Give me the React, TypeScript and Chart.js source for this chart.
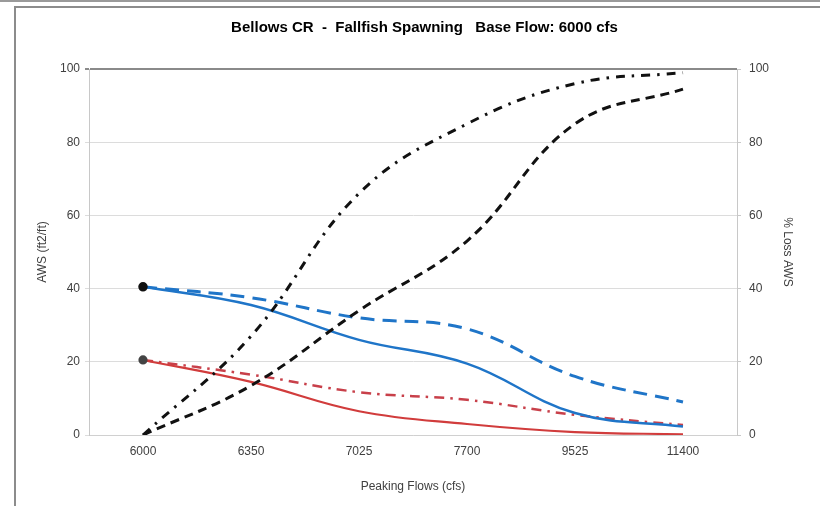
import React, { useEffect, useRef } from "react";
import { Chart, registerables } from "chart.js";

Chart.register(...registerables);

const categories = ["6000", "6350", "7025", "7700", "9525", "11400"];
const awsTicks = [0, 20, 40, 60, 80, 100];

const blueSolid = [40.5, 35.5, 26, 19.5, 6, 2.3];
const blueDashed = [40.5, 37.5, 32, 29, 16, 9];
const redSolid = [20.5, 14.5, 6.5, 3, 0.8, 0.2];
const redDashDot = [20.5, 16.5, 11.7, 9.6, 5.5, 2.7];
const blackDashDot = [0, 27, 66, 85, 96, 99];
const blackDashed = [0, 13.5, 34, 53, 85, 94.5];

const titleText = "Bellows CR  -  Fallfish Spawning   Base Flow: 6000 cfs";
const xTitle = "Peaking Flows (cfs)";
const yTitle = "AWS (ft2/ft)";
const y1Title = "% Loss AWS";

const FONT = "'Liberation Sans', Arial, sans-serif";
const BLUE = "#1f75c8";
const RED = "#d13c3c";

export default function App() {
  const ref = useRef<HTMLCanvasElement | null>(null);

  useEffect(() => {
    if (!ref.current) return;
    const firstDot = categories.map((_, i) => (i === 0 ? 3.5 : 0));
    const chart = new Chart(ref.current, {
      type: "line",
      data: {
        labels: categories,
        datasets: [
          {
            label: "Loss dash-dot",
            data: blackDashDot,
            yAxisID: "y1",
            borderColor: "#111",
            borderWidth: 3,
            borderDash: [9, 7, 2.5, 7],
            pointRadius: 0,
          },
          {
            label: "Loss dashed",
            data: blackDashed,
            yAxisID: "y1",
            borderColor: "#111",
            borderWidth: 3,
            borderDash: [9, 6],
            pointRadius: 0,
          },
          {
            label: "Blue solid",
            data: blueSolid,
            yAxisID: "y",
            borderColor: BLUE,
            borderWidth: 2.5,
            pointRadius: firstDot,
            pointBackgroundColor: "#111",
            pointBorderColor: "#111",
          },
          {
            label: "Blue dashed",
            data: blueDashed,
            yAxisID: "y",
            borderColor: BLUE,
            borderWidth: 3,
            borderDash: [14, 8],
            pointRadius: 0,
          },
          {
            label: "Red solid",
            data: redSolid,
            yAxisID: "y",
            borderColor: RED,
            borderWidth: 2.2,
            pointRadius: firstDot,
            pointBackgroundColor: "#444",
            pointBorderColor: "#444",
          },
          {
            label: "Red dash-dot",
            data: redDashDot,
            yAxisID: "y",
            borderColor: "#c8404a",
            borderWidth: 2.5,
            borderDash: [10, 6, 2.5, 6],
            pointRadius: 0,
          },
        ],
      },
      options: {
        animation: false,
        responsive: true,
        maintainAspectRatio: false,
        layout: { padding: { left: 29, right: 0, top: 0, bottom: 0 } },
        elements: {
          line: { tension: 0.4, fill: false, capBezierPoints: true },
        },
        plugins: {
          legend: { display: false },
          tooltip: { enabled: false },
          title: {
            display: true,
            text: titleText,
            color: "#000",
            font: { family: FONT, size: 15, weight: "bold" },
            padding: { top: 19, bottom: 32 },
          },
        },
        scales: {
          x: {
            type: "category",
            offset: true,
            grid: { display: false, drawTicks: false },
            border: { display: true, color: "#d0d0d0", width: 1 },
            ticks: {
              color: "#404040",
              font: { family: FONT, size: 12 },
              padding: 9,
              autoSkip: false,
              maxRotation: 0,
            },
            title: {
              display: true,
              text: xTitle,
              color: "#404040",
              font: { family: FONT, size: 12 },
              padding: { top: 0, bottom: 11.8 },
            },
            afterFit: (s: any) => {
              s.height = 71;
            },
          },
          y: {
            position: "left",
            min: 0,
            max: 100,
            afterBuildTicks: (s: any) => {
              s.ticks = awsTicks.map((v) => ({ value: v }));
            },
            grid: {
              color: (c: any) => (c.tick && c.tick.value === 100 ? "#8a8a8a" : "#dcdcdc"),
              lineWidth: (c: any) => (c.tick && c.tick.value === 100 ? 2 : 1),
              tickLength: 4,
            },
            border: { display: true, color: "#c8c8c8", width: 1 },
            ticks: {
              color: "#404040",
              font: { family: FONT, size: 12 },
              padding: 5,
            },
            title: {
              display: true,
              text: yTitle,
              color: "#404040",
              font: { family: FONT, size: 12 },
              padding: { top: 6.8, bottom: 0 },
            },
            afterFit: (s: any) => {
              s.width = 60;
            },
          },
          y1: {
            position: "right",
            min: 0,
            max: 100,
            afterBuildTicks: (s: any) => {
              s.ticks = awsTicks.map((v) => ({ value: v }));
            },
            grid: {
              drawOnChartArea: false,
              color: "#c8c8c8",
              tickLength: 4,
            },
            border: { display: true, color: "#c8c8c8", width: 1 },
            ticks: {
              color: "#404040",
              font: { family: FONT, size: 12 },
              padding: 8,
            },
            title: {
              display: true,
              text: y1Title,
              color: "#404040",
              font: { family: FONT, size: 12 },
              padding: { top: 25.8, bottom: 0 },
            },
            afterFit: (s: any) => {
              s.width = 83;
            },
          },
        },
      },
    });
    return () => chart.destroy();
  }, []);

  return (
    <div
      style={{
        position: "fixed",
        left: 0,
        top: 0,
        width: 820,
        height: 506,
        background: "#fff",
        overflow: "hidden",
      }}
    >
      <canvas ref={ref} />
      <div
        style={{
          position: "absolute",
          left: 0,
          top: 0,
          width: 820,
          height: 2,
          background: "#9a9a9a",
          pointerEvents: "none",
        }}
      />
      <div
        style={{
          position: "absolute",
          left: 14,
          top: 6,
          width: 820,
          height: 520,
          borderLeft: "2px solid #8c8c8c",
          borderTop: "2px solid #8c8c8c",
          pointerEvents: "none",
        }}
      />
    </div>
  );
}
